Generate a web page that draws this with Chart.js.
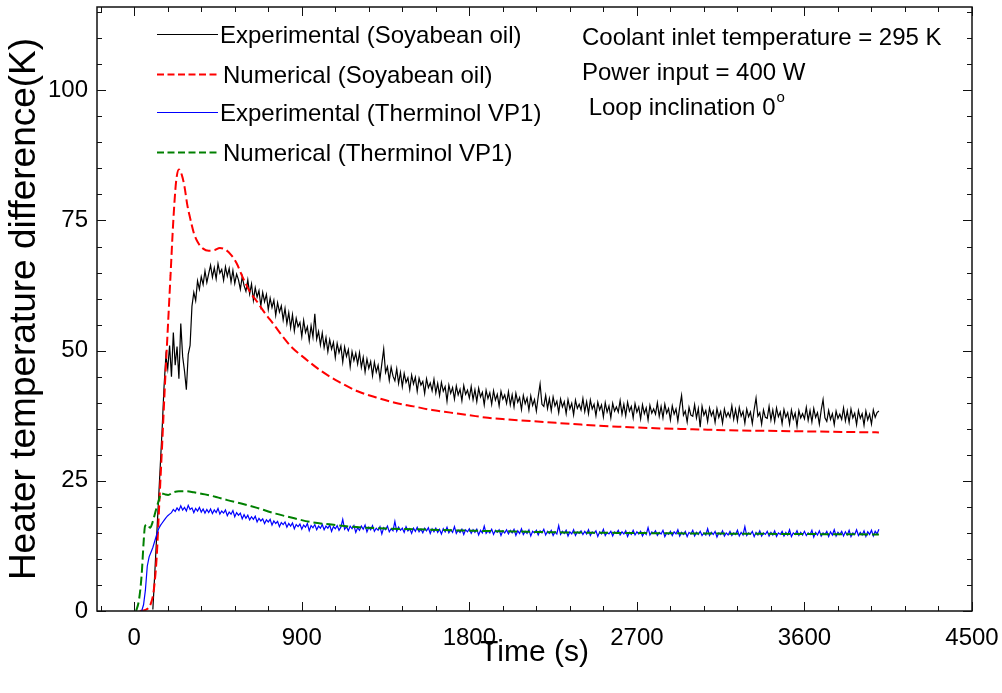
<!DOCTYPE html>
<html>
<head>
<meta charset="utf-8">
<script src="https://cdn.jsdelivr.net/npm/chart.js@4/dist/chart.umd.min.js"></script>
<style>
  html, body { margin: 0; padding: 0; background: #fff; }
  #wrap { width: 1002px; height: 693px; }
</style>
</head>
<body>
<div id="wrap"><canvas id="heaterChart" width="1002" height="693"></canvas></div>
<script>
// sample times of the measured curves (s), one row = 200 s
const expTime = [
  0, 10, 20, 30, 40, 50, 60, 70, 80, 90, 100, 110, 120, 130, 140, 150, 160, 170, 180, 190,
  200, 210, 220, 230, 240, 250, 260, 270, 280, 290, 300, 310, 320, 330, 340, 350, 360, 370, 380, 390,
  400, 410, 420, 430, 440, 450, 460, 470, 480, 490, 500, 510, 520, 530, 540, 550, 560, 570, 580, 590,
  600, 610, 620, 630, 640, 650, 660, 670, 680, 690, 700, 710, 720, 730, 740, 750, 760, 770, 780, 790,
  800, 810, 820, 830, 840, 850, 860, 870, 880, 890, 900, 910, 920, 930, 940, 950, 960, 970, 980, 990,
  1000, 1010, 1020, 1030, 1040, 1050, 1060, 1070, 1080, 1090, 1100, 1110, 1120, 1130, 1140, 1150, 1160, 1170, 1180, 1190,
  1200, 1210, 1220, 1230, 1240, 1250, 1260, 1270, 1280, 1290, 1300, 1310, 1320, 1330, 1340, 1350, 1360, 1370, 1380, 1390,
  1400, 1410, 1420, 1430, 1440, 1450, 1460, 1470, 1480, 1490, 1500, 1510, 1520, 1530, 1540, 1550, 1560, 1570, 1580, 1590,
  1600, 1610, 1620, 1630, 1640, 1650, 1660, 1670, 1680, 1690, 1700, 1710, 1720, 1730, 1740, 1750, 1760, 1770, 1780, 1790,
  1800, 1810, 1820, 1830, 1840, 1850, 1860, 1870, 1880, 1890, 1900, 1910, 1920, 1930, 1940, 1950, 1960, 1970, 1980, 1990,
  2000, 2010, 2020, 2030, 2040, 2050, 2060, 2070, 2080, 2090, 2100, 2110, 2120, 2130, 2140, 2150, 2160, 2170, 2180, 2190,
  2200, 2210, 2220, 2230, 2240, 2250, 2260, 2270, 2280, 2290, 2300, 2310, 2320, 2330, 2340, 2350, 2360, 2370, 2380, 2390,
  2400, 2410, 2420, 2430, 2440, 2450, 2460, 2470, 2480, 2490, 2500, 2510, 2520, 2530, 2540, 2550, 2560, 2570, 2580, 2590,
  2600, 2610, 2620, 2630, 2640, 2650, 2660, 2670, 2680, 2690, 2700, 2710, 2720, 2730, 2740, 2750, 2760, 2770, 2780, 2790,
  2800, 2810, 2820, 2830, 2840, 2850, 2860, 2870, 2880, 2890, 2900, 2910, 2920, 2930, 2940, 2950, 2960, 2970, 2980, 2990,
  3000, 3010, 3020, 3030, 3040, 3050, 3060, 3070, 3080, 3090, 3100, 3110, 3120, 3130, 3140, 3150, 3160, 3170, 3180, 3190,
  3200, 3210, 3220, 3230, 3240, 3250, 3260, 3270, 3280, 3290, 3300, 3310, 3320, 3330, 3340, 3350, 3360, 3370, 3380, 3390,
  3400, 3410, 3420, 3430, 3440, 3450, 3460, 3470, 3480, 3490, 3500, 3510, 3520, 3530, 3540, 3550, 3560, 3570, 3580, 3590,
  3600, 3610, 3620, 3630, 3640, 3650, 3660, 3670, 3680, 3690, 3700, 3710, 3720, 3730, 3740, 3750, 3760, 3770, 3780, 3790,
  3800, 3810, 3820, 3830, 3840, 3850, 3860, 3870, 3880, 3890, 3900, 3910, 3920, 3930, 3940, 3950, 3960, 3970, 3980, 3990,
  4000
];

// Experimental (Soyabean oil), K
const expSoy = [
  null, null, null, null, null, null, null, null, null, null, 0.3, 7, 14, 21, 28, 35, 43, 49, 46.5, 51,
  45, 53.5, 47.2, 50.8, 44.6, 55.2, 48.9, 46.1, 42.5, 49.3, 51, 58.5, 61.2, 59.6, 63.4, 61.8, 64.2, 62.7, 65.3, 63.1,
  64.8, 66.4, 64.1, 65.9, 63.8, 66.7, 64.9, 65.6, 63.5, 66.1, 64.3, 65.8, 63.2, 65.4, 62.9, 64.7, 63.6, 61.8, 64.2, 62.5,
  61.4, 63.6, 60.9, 62.8, 59.7, 62.1, 60.3, 61.5, 58.6, 61.2, 59.4, 60.8, 57.9, 60.1, 58.3, 59.7, 56.8, 59.2, 57.4, 58.6,
  55.9, 58.1, 55.2, 57.3, 54.4, 56.9, 53.8, 56.2, 54.6, 55.4, 52.7, 55.8, 53.5, 54.6, 51.9, 54.8, 52.6, 57.1, 52.2, 53.7,
  51.1, 53.4, 50.6, 52.5, 49.8, 52.1, 50.3, 51.6, 48.7, 51.4, 49.6, 50.9, 47.8, 50.7, 48.9, 50.2, 46.9, 49.8, 48.1, 49.5,
  47.4, 49.6, 46.8, 48.7, 45.9, 48.4, 46.6, 47.9, 45.2, 47.8, 45.9, 47.2, 44.6, 47.5, 50.3, 45.8, 46.9, 44.3, 46.8, 45.1,
  44.2, 46.5, 43.7, 45.8, 43.1, 45.6, 43.9, 44.8, 42.5, 45.3, 43.6, 44.9, 42.2, 44.7, 43.4, 44.1, 41.8, 44.6, 42.9, 43.8,
  42.3, 44.5, 41.9, 43.7, 41.4, 43.9, 42.2, 43.1, 40.3, 43.4, 41.8, 42.9, 40.7, 43.2, 41.5, 42.6, 40.4, 43.3, 41.6, 42.4,
  40.9, 43.1, 40.6, 42.5, 40.2, 42.8, 41.1, 42, 39.6, 42.4, 40.8, 41.9, 39.7, 42.3, 40.5, 41.6, 39.4, 42.2, 40.7, 41.5,
  39.9, 42.1, 39.6, 41.5, 39.2, 41.8, 40.1, 41, 38.7, 41.4, 39.8, 40.9, 38.6, 41.3, 39.5, 40.6, 38.4, 41.2, 43.6, 39.7,
  39.3, 41.4, 38.9, 40.8, 38.5, 41.1, 39.4, 40.3, 38.1, 40.7, 39.2, 40.2, 37.9, 40.6, 38.8, 39.9, 37.7, 40.5, 38.9, 39.7,
  38.6, 40.8, 38.3, 40.2, 37.9, 40.5, 38.8, 39.7, 37.5, 40.1, 38.6, 39.6, 37.3, 40, 38.2, 39.4, 37.1, 39.9, 38.4, 39.2,
  38.2, 40.4, 37.8, 39.7, 37.5, 40.1, 38.4, 39.3, 37.1, 39.8, 38.2, 39.2, 36.9, 39.6, 37.9, 39, 36.7, 39.5, 38, 38.8,
  37.8, 40, 37.4, 39.3, 37.1, 39.7, 38, 38.9, 36.7, 39.4, 37.8, 38.8, 36.5, 39.2, 41.4, 37.6, 38.4, 36.3, 39.1, 37.6,
  37.4, 39.6, 37.1, 38.9, 35.3, 39.3, 37.6, 38.5, 36.4, 39, 37.5, 38.4, 36.2, 38.9, 37.2, 38.3, 36.1, 38.8, 37.3, 38.1,
  37.2, 39.4, 36.8, 38.7, 36.5, 39.1, 37.4, 38.3, 36.1, 38.8, 37.3, 38.2, 36, 38.7, 40.9, 37.4, 38.1, 35.9, 38.6, 37.2,
  37, 39.3, 36.7, 38.6, 36.4, 39, 37.3, 38.2, 36, 38.7, 37.2, 38.1, 35.9, 38.6, 36.9, 38, 35.5, 38.5, 37.1, 37.9,
  36.9, 39.1, 36.6, 38.5, 36.3, 38.9, 37.2, 38.1, 35.9, 38.6, 40.6, 37.1, 36.4, 38.5, 36.8, 37.9, 35.8, 38.4, 37, 37.8,
  36.8, 39, 36.5, 38.4, 36.2, 38.8, 37.1, 38, 35.8, 38.5, 37, 37.9, 35.7, 38.4, 36.7, 37.8, 35.9, 38.6, 37.2, 38.1,
  38.4
];

// Experimental (Therminol VP1), K
const expVp = [
  null, null, null, null, 0, 1.2, 4, 8.6, 10.4, 11.3, 12.2, 13.4, 14.6, 15.7, 16.4, 16.9, 17.4, 17.9, 18.3, 18.6,
  18.9, 19.5, 19.1, 19.8, 19.3, 20.2, 19.4, 19.9, 19.2, 20.3, 19.5, 19.8, 18.9, 19.7, 19.2, 19.9, 19, 19.6, 18.8, 19.5,
  18.9, 19.6, 18.7, 19.4, 18.9, 19.7, 18.6, 19.2, 18.8, 19.4, 18.3, 19, 18.6, 19.3, 18.1, 18.9, 18.4, 18.8, 17.7, 18.5,
  17.8, 18.4, 17.5, 18.1, 17.6, 18.2, 17.1, 17.8, 17.3, 17.7, 16.8, 17.5, 17.1, 17.6, 16.5, 17.3, 16.8, 17.2, 16.2, 17,
  16.6, 17.1, 16.1, 16.8, 16.3, 16.9, 15.8, 16.6, 16.2, 16.7, 15.7, 16.5, 16.1, 16.8, 15.4, 16.4, 16, 16.6, 15.6, 16.3,
  15.9, 16.6, 15.6, 16.3, 15.9, 16.5, 15.3, 16.2, 15.8, 16.4, 15.5, 16.1, 17.6, 15.7, 16.2, 15.4, 16.3, 15.8, 16.4, 15.1,
  16, 15.5, 16.3, 15.7, 16.5, 15.2, 16.1, 15.6, 16.4, 15.3, 15.9, 15.5, 16.2, 14.8, 16, 15.6, 16.3, 15.2, 15.8, 15.4,
  17.2, 15.3, 16.1, 15.5, 15.9, 15.1, 16.2, 15.4, 15.8, 14.9, 15.9, 15.3, 16.1, 15.2, 15.7, 15, 15.9, 15.4, 16, 14.9,
  15.8, 15.2, 15.9, 15.1, 15.7, 14.8, 15.8, 15.2, 16.1, 15, 15.6, 15.1, 16.2, 14.9, 15.5, 15.1, 15.7, 14.7, 15.6, 15.2,
  15.8, 14.9, 15.6, 15.1, 15.7, 14.6, 15.5, 15, 16.3, 14.9, 15.4, 15, 15.7, 14.7, 15.5, 15.1, 15.6, 14.5, 15.4, 15,
  15.6, 14.8, 15.5, 15, 15.7, 14.5, 15.4, 14.9, 15.8, 14.7, 15.3, 14.9, 15.6, 14.4, 15.3, 15, 15.5, 14.6, 15.4, 15,
  15.7, 14.6, 15.3, 14.9, 15.5, 14.5, 15.2, 14.8, 16.4, 14.7, 15.3, 14.9, 15.5, 14.4, 15.2, 14.8, 15.6, 14.5, 15.2, 14.9,
  15.4, 14.7, 15.3, 14.8, 15.6, 14.5, 15.2, 14.9, 15.4, 14.3, 15.2, 14.8, 15.7, 14.5, 15.1, 14.8, 15.3, 14.4, 15.2, 14.9,
  15.5, 14.6, 15.2, 14.8, 15.4, 14.3, 15.1, 14.7, 15.5, 14.6, 15.2, 14.8, 15.3, 14.4, 15.1, 14.7, 16, 14.6, 15.2, 14.9,
  15.4, 14.5, 15.1, 14.8, 15.5, 14.3, 15, 14.7, 15.3, 14.5, 15.2, 14.8, 15.6, 14.4, 15.1, 14.7, 15.3, 14.3, 15.1, 14.8,
  15.5, 14.4, 15.1, 14.7, 15.3, 14.5, 15, 14.6, 15.8, 14.5, 15.1, 14.7, 15.3, 14.2, 15, 14.7, 15.4, 14.4, 15, 14.6,
  15.3, 14.5, 15, 14.7, 15.5, 14.4, 15.1, 14.6, 16.2, 14.5, 15, 14.7, 15.3, 14.3, 15.1, 14.6, 15.4, 14.4, 15, 14.7,
  15.3, 14.4, 15.1, 14.6, 15.4, 14.3, 15, 14.7, 15.3, 14.4, 15.1, 14.6, 15.6, 14.3, 15, 14.7, 15.4, 14.5, 15.1, 14.6,
  15.3, 14.5, 15, 14.7, 15.5, 14.2, 15.1, 14.6, 15.4, 14.4, 15, 14.7, 15.3, 14.3, 15.2, 14.6, 15.6, 14.4, 15.1, 14.7,
  15.3, 14.4, 15.2, 14.6, 15.5, 14.3, 15, 14.7, 15.6, 14.5, 15.1, 14.6, 15.4, 14.3, 15.2, 14.7, 15.5, 14.4, 15.3, 14.8,
  15.7
];

// Numerical (Soyabean oil)
const numTimeSoy = [30, 60, 90, 105, 120, 135, 150, 165, 180, 195, 210, 225, 240, 255, 270, 285, 300, 320, 340, 370,
  400, 430, 460, 490, 520, 550, 580, 620, 660, 700, 750, 800, 850, 900, 1000, 1100, 1200, 1300, 1400, 1500,
  1600, 1700, 1800, 1900, 2000, 2200, 2400, 2600, 2800, 3000, 3200, 3400, 3600, 3800, 4000];
const numSoy = [0, 0.2, 1.5, 4, 10, 21, 32, 43.5, 54, 64.5, 75, 82.5, 84.8, 83.8, 81.5, 78, 75.5, 72.6, 70.9, 69.6,
  69.2, 69.3, 69.7, 69.4, 68.4, 66.8, 64.3, 61.4, 59.4, 57.3, 55, 52.6, 50.5, 49, 46.2, 44, 42.2, 41, 40, 39.3,
  38.6, 38.1, 37.6, 37.1, 36.8, 36.3, 35.8, 35.4, 35.1, 34.9, 34.7, 34.6, 34.5, 34.4, 34.3];

// Numerical (Therminol VP1)
const numTimeVp = [10, 25, 40, 50, 58, 70, 85, 100, 115, 130, 146, 165, 182, 210, 240, 280, 320, 380, 440, 500,
  580, 660, 760, 860, 960, 1060, 1160, 1300, 1500, 1700, 2000, 2300, 2600, 3000, 3500, 4000];
const numVp = [0, 2, 7, 13, 16.3, 16.6, 16, 17.2, 19.2, 21, 22.6, 22.4, 22.3, 22.8, 23, 23, 22.8, 22.4, 21.9, 21.3,
  20.6, 19.8, 18.7, 17.8, 17, 16.6, 16.2, 15.9, 15.7, 15.5, 15.3, 15.1, 15, 14.9, 14.8, 14.7];

const seriesLabels = ['Experimental (Soyabean oil)', 'Numerical (Soyabean oil)',
  'Experimental (Therminol VP1)', 'Numerical (Therminol VP1)'];
const xTickValues = [0, 900, 1800, 2700, 3600, 4500];
const yTickValues = [0, 25, 50, 75, 100];
const xMinorStep = 180;
const yMinorStep = 5;
const notes = ['Coolant inlet temperature = 295 K', 'Power input = 400 W', ' Loop inclination 0'];

const FONT = '"Liberation Sans", Arial, sans-serif';

function toPoints(xs, ys) {
  return xs.map((t, i) => ({ x: t, y: ys[i] }));
}

// box + inward ticks on all four sides
const frameAndTicks = {
  id: 'frameAndTicks',
  afterDatasetsDraw(chart) {
    const { ctx, chartArea: a, scales: { x, y } } = chart;
    ctx.save();
    ctx.strokeStyle = '#111';
    ctx.lineWidth = 1;
    ctx.beginPath();
    for (let v = Math.ceil(x.min / xMinorStep) * xMinorStep; v <= x.max; v += xMinorStep) {
      const px = Math.round(x.getPixelForValue(v)) + 0.5;
      const len = xTickValues.includes(v) ? 9 : 5;
      ctx.moveTo(px, a.bottom); ctx.lineTo(px, a.bottom - len);
      ctx.moveTo(px, a.top); ctx.lineTo(px, a.top + len);
    }
    for (let v = Math.ceil(y.min / yMinorStep) * yMinorStep; v <= y.max; v += yMinorStep) {
      const py = Math.round(y.getPixelForValue(v)) + 0.5;
      const len = yTickValues.includes(v) ? 9 : 5;
      ctx.moveTo(a.left, py); ctx.lineTo(a.left + len, py);
      ctx.moveTo(a.right, py); ctx.lineTo(a.right - len, py);
    }
    ctx.stroke();
    ctx.lineWidth = 1.5;
    ctx.strokeRect(a.left, a.top, a.right - a.left, a.bottom - a.top);
    ctx.restore();
  }
};

// legend and condition notes inside the plot
const legendAndNotes = {
  id: 'legendAndNotes',
  afterDraw(chart) {
    const ctx = chart.ctx;
    const rowY = [34, 74, 112, 152];
    ctx.save();
    ctx.font = '24px ' + FONT;
    ctx.fillStyle = '#000';
    ctx.textBaseline = 'alphabetic';
    chart.data.datasets.forEach((ds, i) => {
      ctx.strokeStyle = ds.borderColor;
      ctx.lineWidth = ds.borderDash ? 2 : 1;
      ctx.setLineDash(ds.borderDash ? [7, 3.5] : []);
      ctx.beginPath();
      ctx.moveTo(157, rowY[i] + 0.5);
      ctx.lineTo(218, rowY[i] + 0.5);
      ctx.stroke();
      ctx.fillText(ds.label, ds.borderDash ? 223 : 220, rowY[i] + 8.5);
    });
    ctx.setLineDash([]);
    ctx.fillText(notes[0], 582, 45);
    ctx.fillText(notes[1], 582, 80);
    ctx.fillText(notes[2], 582, 115);
    const w = ctx.measureText(notes[2]).width;
    ctx.font = '15px ' + FONT;
    ctx.fillText('o', 582 + w + 1, 102);
    ctx.restore();
  }
};

const ctx = document.getElementById('heaterChart').getContext('2d');
const heaterChart = new Chart(ctx, {
  type: 'line',
  data: {
    datasets: [{
      label: seriesLabels[0],
      data: toPoints(expTime, expSoy),
      borderColor: '#000000',
      borderWidth: 1.2,
      order: 4
    }, {
      label: seriesLabels[1],
      data: toPoints(numTimeSoy, numSoy),
      borderColor: '#ff0000',
      borderWidth: 2,
      borderDash: [9, 4],
      cubicInterpolationMode: 'monotone',
      order: 3
    }, {
      label: seriesLabels[2],
      data: toPoints(expTime, expVp),
      borderColor: '#0000ff',
      borderWidth: 1.2,
      order: 2
    }, {
      label: seriesLabels[3],
      data: toPoints(numTimeVp, numVp),
      borderColor: '#008000',
      borderWidth: 2,
      borderDash: [9, 4],
      cubicInterpolationMode: 'monotone',
      order: 1
    }]
  },
  options: {
    responsive: false,
    animation: false,
    devicePixelRatio: 1,
    layout: { padding: { top: 7, right: 30, left: 0, bottom: 0 } },
    elements: { point: { radius: 0 }, line: { tension: 0 } },
    plugins: {
      legend: { display: false },
      tooltip: { enabled: false }
    },
    scales: {
      x: {
        type: 'linear',
        min: -200,
        max: 4500,
        afterBuildTicks: s => { s.ticks = xTickValues.map(v => ({ value: v })); },
        afterFit: s => { s.height = 82; s.paddingLeft = 0; s.paddingRight = 0; },
        grid: { display: false, drawTicks: false },
        border: { display: false },
        ticks: {
          autoSkip: false,
          maxRotation: 0,
          padding: 13,
          color: '#000',
          font: { family: FONT, size: 24 },
          callback: v => String(v)
        },
        title: {
          display: true,
          text: 'Time (s)',
          color: '#000',
          font: { family: FONT, size: 30 },
          padding: { top: 0, bottom: 22 }
        }
      },
      y: {
        min: 0,
        max: 116,
        afterBuildTicks: s => { s.ticks = yTickValues.map(v => ({ value: v })); },
        afterFit: s => { s.width = 97; s.paddingTop = 0; s.paddingBottom = 0; },
        grid: { display: false, drawTicks: false },
        border: { display: false },
        ticks: {
          padding: 9,
          color: '#000',
          font: { family: FONT, size: 24 },
          callback: v => String(v)
        },
        title: {
          display: true,
          text: 'Heater temperature difference(K)',
          color: '#000',
          font: { family: FONT, size: 37 },
          padding: { top: 3, bottom: 0 }
        }
      }
    }
  },
  plugins: [frameAndTicks, legendAndNotes]
});
</script>
</body>
</html>
